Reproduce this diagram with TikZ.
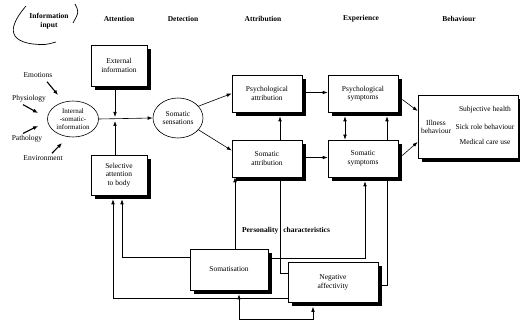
\documentclass[tikz,border=0pt]{standalone}
\usepackage{fontspec}
\setmainfont{Liberation Serif}
\usetikzlibrary{arrows.meta,shadows,backgrounds,shapes.geometric}
\begin{document}
\begin{tikzpicture}[x=1pt,y=-1pt,
  box/.style={draw, line width=0.6pt, fill=white, align=center,
    font=\fontsize{7.5}{8.5}\selectfont, inner sep=1pt,
    drop shadow={shadow xshift=4pt, shadow yshift=-4pt, fill=black, opacity=1}},
  ell/.style={draw, ellipse, line width=0.6pt, fill=white, inner sep=0pt},
  lbl/.style={font=\fontsize{7.5}{8.5}\selectfont, inner sep=1pt, align=center},
  hdr/.style={font=\bfseries\fontsize{7.5}{8.5}\selectfont, align=center, inner sep=1pt},
  conn/.style={line width=0.6pt},
  arr/.style={conn, -{Latex[length=5pt,width=3.6pt]}},
  inarr/.style={line width=1.1pt, -{Latex[length=5pt,width=4pt]}},
  arrs/.style={conn, {Latex[length=5pt,width=3.6pt]}-{Latex[length=5pt,width=3.6pt]}},
]
\useasboundingbox (0,0) rectangle (520,323);

% headers
\node[hdr] (h1) at (49,21) {Information\\input};
\node[hdr] (h2) at (119,19) {Attention};
\node[hdr] (h3) at (183,19) {Detection};
\node[hdr] (h4) at (263,19) {Attribution};
\node[hdr] (h5) at (361,19) {Experience};
\node[hdr] (h6) at (459,19) {Behaviour};
\draw[line width=0.7pt] (26,6) .. controls (14,20) and (2,40) .. (33,44) .. controls (45,45) .. (56,42);
\draw[line width=0.7pt] (75,4) .. controls (79,12) .. (73,23);

% left inputs
\node[lbl] (emo) at (38,75) {Emotions};
\node[lbl] (phy) at (29,99) {Physiology};
\node[lbl] (pat) at (27,139) {Pathology};
\node[lbl] (env) at (43,158) {Environment};

% ellipses
\node[ell, minimum width=51pt, minimum height=36pt] (isi) at (73,119) {};
\node[lbl, font=\fontsize{7}{8}\selectfont] (isit) at (isi) {Internal\\-somatic-\\information};
\node[ell, minimum width=50pt, minimum height=40pt] (ss) at (178,118) {};
\node[lbl] (sst) at (ss) {Somatic\\sensations};

% boxes
\node[box, minimum width=56pt, minimum height=41pt] (ext) at (119,65.5) {External\\information};
\node[box, minimum width=56pt, minimum height=40pt] (sel) at (119,175) {Selective\\attention\\to body};
\node[box, minimum width=70pt, minimum height=37pt] (pa) at (267,93.5) {Psychological\\attribution};
\node[box, minimum width=70pt, minimum height=37pt] (sa) at (267,158.5) {Somatic\\attribution};
\node[box, minimum width=70pt, minimum height=37pt] (ps) at (363,93.5) {Psychological\\symptoms};
\node[box, minimum width=70pt, minimum height=37pt] (sy) at (363,158.5) {Somatic\\symptoms};
\node[box, minimum width=100pt, minimum height=63pt] (ib) at (468,126.5) {};
\node[lbl] (ibl) at (436,127) {Illness\\behaviour};
\node[lbl] (sh) at (485,110) {Subjective health};
\node[lbl] (sr) at (485,127) {Sick role behaviour};
\node[lbl] (mc) at (485,142) {Medical care use};
\node[box, minimum width=78pt, minimum height=41pt] (som) at (229,269.5) {Somatisation};
\node[box, minimum width=90pt, minimum height=40pt] (na) at (333,282.5) {Negative\\affectivity};
\node[hdr] (pc) at (286,231) {Personality\hspace{5pt}characteristics};

\coordinate (cross) at (115,119);
\coordinate (tE) at (58,95);
\coordinate (tP) at (38,113);
\coordinate (tQ) at (38,126);
\coordinate (tV) at (62,143);
\coordinate (c1) at (239,319);
\coordinate (c2) at (313,319);

\begin{pgfonlayer}{background}
% input arrows
\draw[inarr] ([xshift=9pt,yshift=-3pt]emo.south) -- (tE);
\draw[inarr] ([xshift=-6pt,yshift=-1pt]phy.south) -- (tP);
\draw[inarr] ([xshift=-4pt,yshift=1pt]pat.north) -- (tQ);
\draw[inarr] ([xshift=9pt,yshift=1pt]env.north) -- (tV);
% detection line
\draw[arr] (isi.east) -- (ss.west);
\draw[arr] ([xshift=-4pt,yshift=-4pt]ext.south) -- ([yshift=2pt]cross);
\draw[arr] ([xshift=-4pt]sel.north) -- ([yshift=-2pt]cross);
% attribution
\draw[arr] (ss.30) -- (pa.west);
\draw[arr] (ss.-30) -- ([yshift=8pt]sa.west);
\draw[arr] ([yshift=1pt]pa.east) -- ([yshift=1pt]ps.west);
\draw[arr] ([yshift=1pt]sa.east) -- ([yshift=1pt]sy.west);
\draw[arrs] ([xshift=-18pt,yshift=-4pt]ps.south) -- ([xshift=-18pt]sy.north);
\draw[arr] ([xshift=4pt,yshift=-6pt]ps.east) -- ([yshift=15.5pt]ib.west);
\draw[arr] ([xshift=4pt,yshift=3pt]sy.east) -- ([yshift=-15.5pt]ib.west);
% personality links
\draw[arr] ([xshift=6pt]som.north) -- ([xshift=-32pt]sa.south);
\draw[arr] ([yshift=9pt]na.west) -| ([xshift=13pt,yshift=-4pt]pa.south);
\draw[arr] ([yshift=11.5pt]som.east) -| ([xshift=2pt,yshift=-4pt]sy.south);
\draw[arr] ([yshift=-3pt]na.east) -| ([xshift=24pt,yshift=-4pt]ps.south);
\draw[arr] ([yshift=12.5pt]som.west) -| ([xshift=3pt,yshift=-4pt]sel.south);
\draw[arr] ([yshift=-15.5pt]na.west) -| ([xshift=-6pt,yshift=-4pt]sel.south);
\draw[arrs] ([xshift=10pt,yshift=-4pt]som.south) -- (c1) -- (c2) -- ([xshift=-20pt,yshift=-4pt]na.south);
\end{pgfonlayer}
\end{tikzpicture}
\end{document}
